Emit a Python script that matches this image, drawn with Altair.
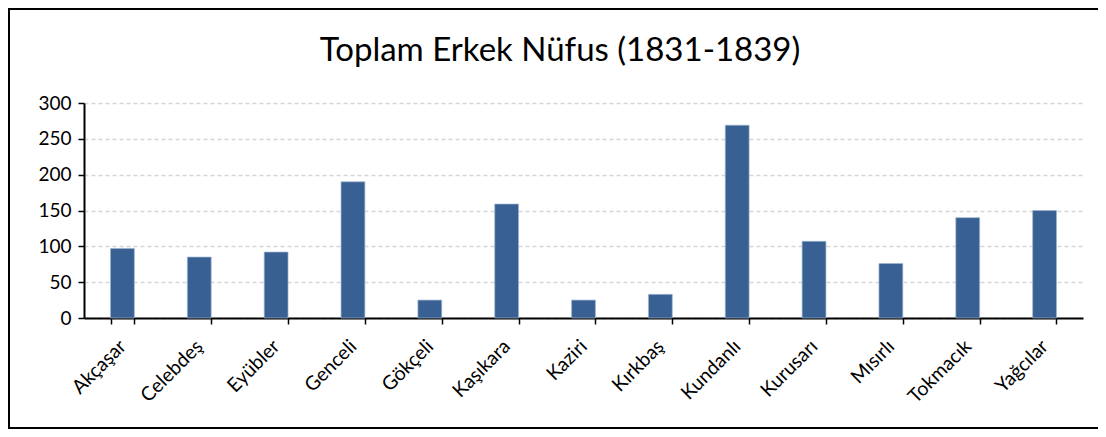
import altair as alt
import pandas as pd

villages = ["Akçaşar", "Celebdeş", "Eyübler", "Genceli", "Gökçeli", "Kaşıkara", "Kaziri",
            "Kırkbaş", "Kundanlı", "Kurusarı", "Mısırlı", "Tokmacık", "Yağcılar"]
male_pop = [97, 85, 92, 190, 25, 159, 25, 33, 269, 107, 76, 140, 150]
y_ticks = [0, 50, 100, 150, 200, 250, 300]
title_text = "Toplam Erkek Nüfus (1831-1839)"

FONT = "Lato"
W, H = 999, 215

df = pd.DataFrame({"village": villages, "pop": male_pop})

bars = alt.Chart(df).mark_bar(color="#386093", stroke="#9DB3CF", strokeWidth=0.7).encode(
    x=alt.X("village:N", sort=villages,
            scale=alt.Scale(paddingInner=0.69, paddingOuter=0.345),
            axis=alt.Axis(title=None, labelAngle=-45, labelAlign="right", labelBaseline="middle",
                          labelFontSize=19.5, labelFont=FONT, labelColor="#000000", labelPadding=19,
                          tickBand="extent", tickSize=6, tickColor="#000000", tickWidth=1.5,
                          domainColor="#000000", domainWidth=2, grid=False, labelOverlap=False)),
    y=alt.Y("pop:Q", scale=alt.Scale(domain=[0, 300], nice=False),
            axis=alt.Axis(title=None, values=y_ticks, labelFontSize=19, labelFont=FONT,
                          labelColor="#000000", labelPadding=7, tickSize=6, tickColor="#000000",
                          tickWidth=1.5, domainColor="#000000", domainWidth=2,
                          grid=True, gridColor="#D6D6D6", gridDash=[4, 3], gridWidth=1.4)),
)

title = alt.Chart(pd.DataFrame({"t": [title_text]})).mark_text(
    font=FONT, fontSize=33, color="#000000", align="center", baseline="alphabetic"
).encode(text="t:N", x=alt.value(476), y=alt.value(-42))

border = alt.Chart(pd.DataFrame({"k": [0]})).mark_rect(
    fill=None, stroke="#000000", strokeWidth=2
).encode(
    x=alt.value(-75), x2=alt.value(W + 40),
    y=alt.value(-94), y2=alt.value(H + 110),
)

chart = alt.layer(bars, title, border).properties(
    width=W, height=H,
    background="white",
    padding={"left": 76, "top": 95, "right": 15, "bottom": 111},
    autosize=alt.AutoSizeParams(type="none"),
).configure_view(stroke=None, strokeWidth=0)

chart.save("out.html", embed_options={"renderer": "svg", "actions": False})
